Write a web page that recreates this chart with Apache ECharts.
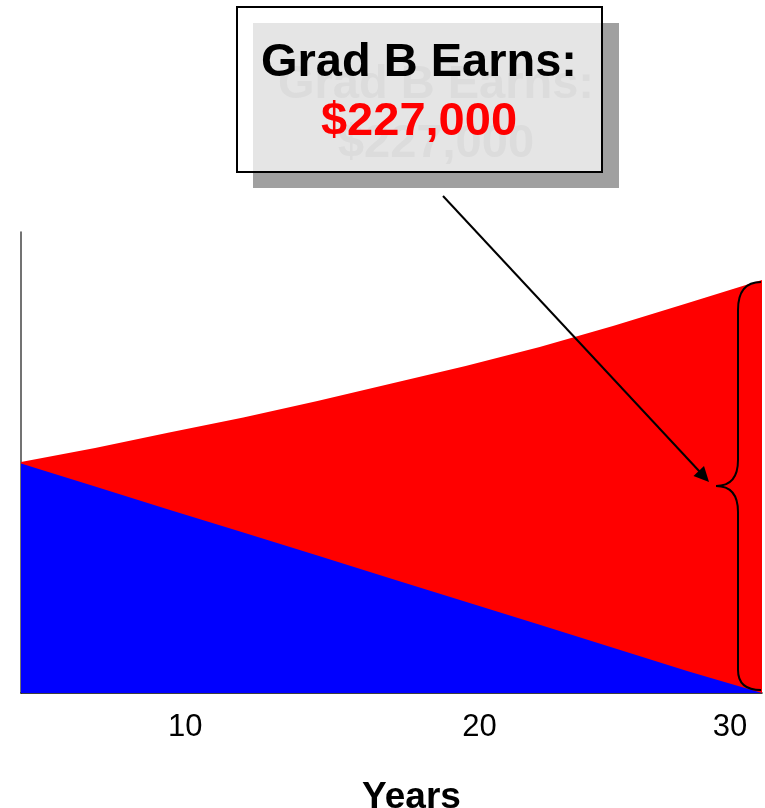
<!DOCTYPE html>
<html>
<head>
<meta charset="utf-8">
<script src="https://cdn.jsdelivr.net/npm/echarts@6/dist/echarts.min.js"></script>
<style>
  html, body { margin: 0; padding: 0; background: #ffffff; }
  #chart { width: 765px; height: 808px; }
</style>
</head>
<body>
<div id="chart"></div>
<script>
// ---- Data (values in $1000s) ----
const years = [5, 7.5, 10, 12.5, 15, 17.5, 20, 22.5, 25, 27.5, 30];
const gradBTotal = [127.3, 135.0, 143.5, 151.8, 160.9, 170.5, 180.2, 190.6, 202.4, 214.9, 227.6];
const gradATotal = [126.5, 113.8, 101.0, 88.4, 75.8, 63.0, 50.3, 37.6, 24.8, 12.0, 0];
const xTickLabels = [10, 20, 30];
const axisTitle = 'Years';
const calloutTitle = 'Grad B Earns:';
const calloutValue = '$227,000';

const redSeries = years.map((y, i) => [y, gradBTotal[i]]);
const blueSeries = years.map((y, i) => [y, gradATotal[i]]);

const FONT = '"Liberation Sans", Arial, Helvetica, sans-serif';

const chart = echarts.init(document.getElementById('chart'), null, { renderer: 'canvas' });

const rich = {
  t10: { fontFamily: FONT, fontSize: 31, color: '#000', padding: [0, 0, 0, 32] },
  t20: { fontFamily: FONT, fontSize: 31, color: '#000', padding: [0, 0, 0, 28] },
  t30: { fontFamily: FONT, fontSize: 31, color: '#000', padding: [0, 64, 0, 0] }
};

function txt(text, x, y, color) {
  return {
    type: 'text', x: x, y: y,
    style: { text: text, fontFamily: FONT, fontSize: 47, fontWeight: 'bold', fill: color, align: 'center', verticalAlign: 'top' }
  };
}

const graphics = [
  { type: 'rect', shape: { x: 253, y: 23, width: 366, height: 165 }, style: { fill: '#a0a0a0' }, z: 10 },
  { type: 'rect', shape: { x: 237, y: 7, width: 365, height: 165 }, style: { fill: 'rgba(255,255,255,0.72)', stroke: '#000', lineWidth: 2 }, z: 11 },
  Object.assign(txt(calloutTitle, 436, 62, '#dcdcdc'), { z: 12 }),
  Object.assign(txt(calloutValue, 436, 121, '#dcdcdc'), { z: 12 }),
  Object.assign(txt(calloutTitle, 419, 40, '#000000'), { z: 13 }),
  Object.assign(txt(calloutValue, 419, 99, '#ff0000'), { z: 13 }),
  { type: 'line', shape: { x1: 443, y1: 196, x2: 700, y2: 472 }, style: { stroke: '#000', lineWidth: 2 }, z: 14 },
  { type: 'polygon', shape: { points: [[709, 482], [693.5, 476], [704, 466]] }, style: { fill: '#000' }, z: 14 },
  // brace
  { type: 'bezierCurve', shape: { x1: 761, y1: 282, cpx1: 745, cpy1: 282, cpx2: 738, cpy2: 292, x2: 738, y2: 310 }, style: { stroke: '#000', lineWidth: 2, fill: null }, z: 14 },
  { type: 'line', shape: { x1: 738, y1: 310, x2: 738, y2: 460 }, style: { stroke: '#000', lineWidth: 2 }, z: 14 },
  { type: 'bezierCurve', shape: { x1: 738, y1: 460, cpx1: 738, cpy1: 478, cpx2: 730, cpy2: 486, x2: 716, y2: 486 }, style: { stroke: '#000', lineWidth: 2, fill: null }, z: 14 },
  { type: 'bezierCurve', shape: { x1: 716, y1: 486, cpx1: 730, cpy1: 486, cpx2: 738, cpy2: 494, x2: 738, y2: 512 }, style: { stroke: '#000', lineWidth: 2, fill: null }, z: 14 },
  { type: 'line', shape: { x1: 738, y1: 512, x2: 738, y2: 670 }, style: { stroke: '#000', lineWidth: 2 }, z: 14 },
  { type: 'bezierCurve', shape: { x1: 738, y1: 670, cpx1: 738, cpy1: 683, cpx2: 745, cpy2: 690, x2: 761, y2: 690 }, style: { stroke: '#000', lineWidth: 2, fill: null }, z: 14 }
];

chart.setOption({
  backgroundColor: '#ffffff',
  animation: false,
  grid: { left: 21, right: 3, top: 232, bottom: 115, containLabel: false, outerBoundsMode: 'none' },
  xAxis: {
    type: 'value',
    min: 5,
    max: 30,
    interval: 5,
    name: axisTitle,
    nameLocation: 'middle',
    nameGap: 86,
    nameTextStyle: { fontFamily: FONT, fontSize: 37, fontWeight: 'bold', color: '#000', padding: [0, 0, 0, 40] },
    axisLine: { show: true, lineStyle: { color: '#000', width: 1.5 } },
    axisTick: { show: false },
    splitLine: { show: false },
    axisLabel: {
      show: true,
      margin: 19,
      showMinLabel: true,
      showMaxLabel: true,
      formatter: function (v) {
        return xTickLabels.indexOf(v) >= 0 ? '{t' + v + '|' + v + '}' : '';
      },
      rich: rich
    }
  },
  yAxis: {
    type: 'value',
    min: 0,
    max: 254,
    axisLine: { show: true, lineStyle: { color: '#444', width: 1.5 } },
    axisTick: { show: false },
    axisLabel: { show: false },
    splitLine: { show: false }
  },
  series: [
    {
      name: 'Grad B',
      type: 'line',
      data: redSeries,
      symbol: 'none',
      lineStyle: { width: 0 },
      areaStyle: { color: '#ff0000', opacity: 1 },
      z: 2
    },
    {
      name: 'Grad A',
      type: 'line',
      data: blueSeries,
      symbol: 'none',
      lineStyle: { width: 0 },
      areaStyle: { color: '#0000ff', opacity: 1 },
      z: 3
    }
  ],
  graphic: graphics
});
</script>
</body>
</html>
